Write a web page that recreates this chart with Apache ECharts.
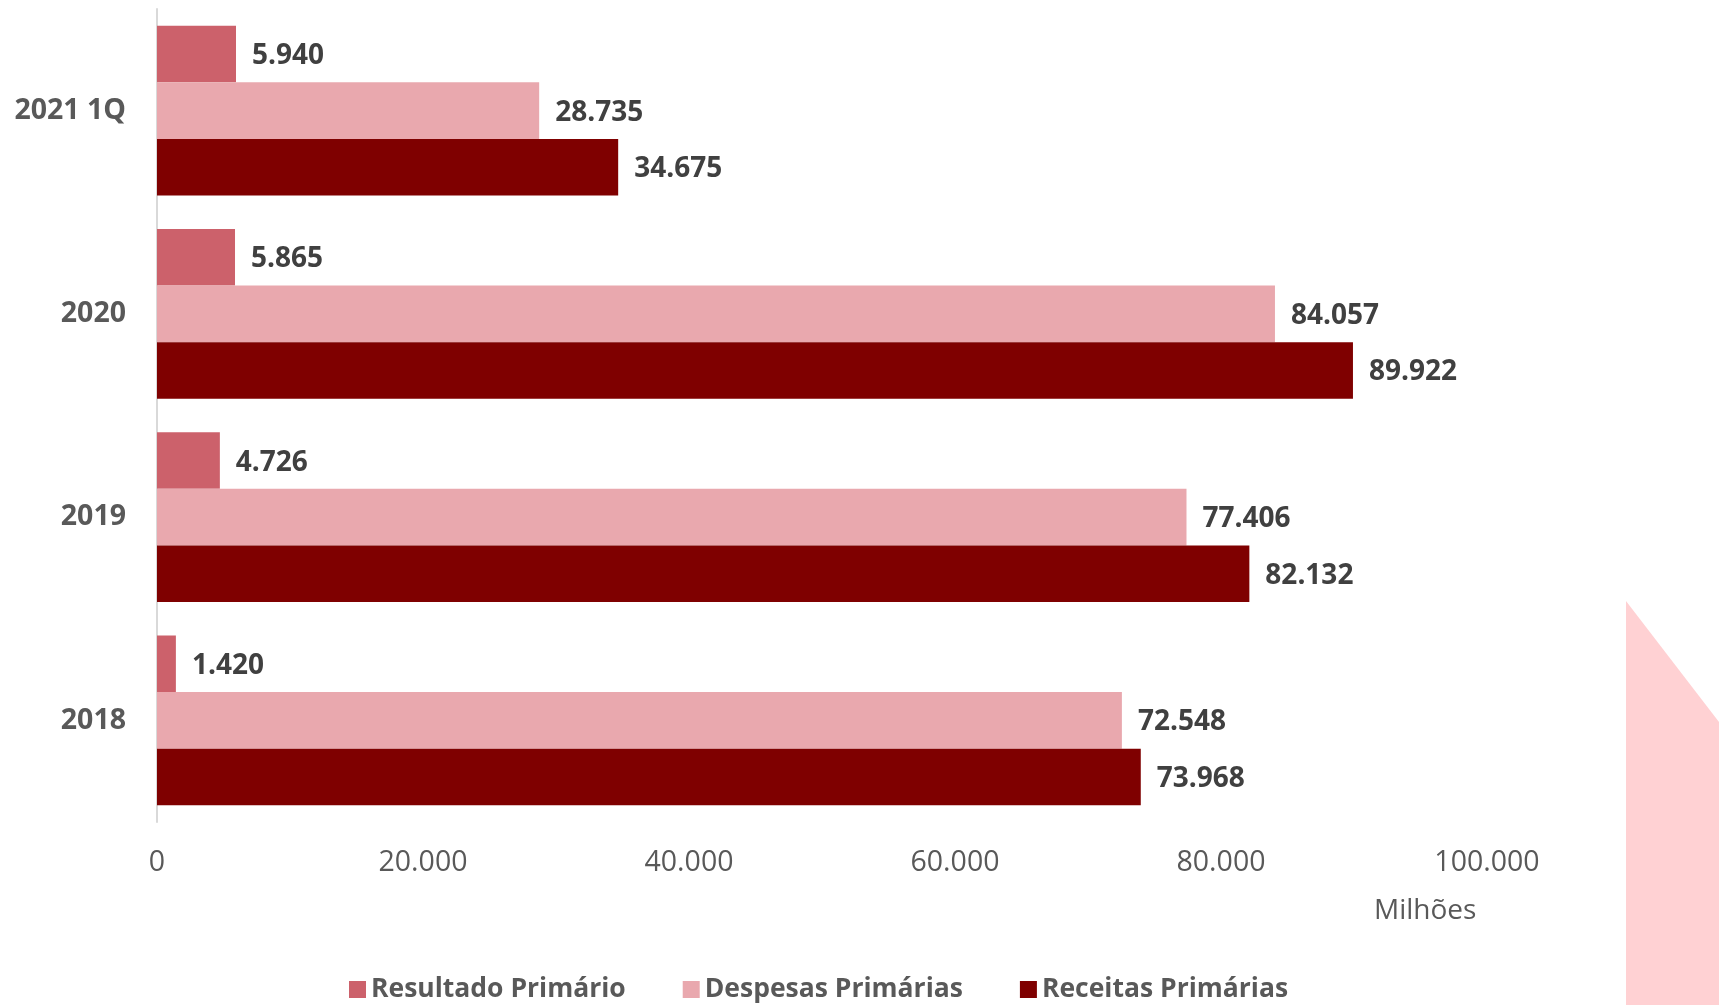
<!DOCTYPE html>
<html>
<head>
<meta charset="utf-8">
<script src="https://cdn.jsdelivr.net/npm/echarts@6/dist/echarts.min.js"></script>
<style>
  html, body { margin: 0; padding: 0; background: #fff; }
  #chart { width: 1719px; height: 1005px; }
</style>
</head>
<body>
<div id="chart"></div>
<script>
// categories, bottom to top as the category axis draws them
var categorias = ['2018', '2019', '2020', '2021 1Q'];
var resultadoPrimario = [1420, 4726, 5865, 5940];
var despesasPrimarias = [72548, 77406, 84057, 28735];
var receitasPrimarias = [73968, 82132, 89922, 34675];
var xTicks = [0, 20000, 40000, 60000, 80000, 100000];

var fonte = '"Open Sans", "DejaVu Sans", sans-serif';

function fmt(v) {
  return String(v).replace(/\B(?=(\d{3})+(?!\d))/g, '.');
}

var myChart = echarts.init(document.getElementById('chart'));

var rotulo = {
  show: true,
  position: 'right',
  distance: 16,
  offset: [0, 2],
  color: '#404040',
  fontFamily: fonte,
  fontWeight: 'bold',
  fontSize: 28,
  formatter: function (p) { return fmt(p.value); }
};

var option = {
  animation: false,
  textStyle: { fontFamily: fonte },
  title: {
    text: 'Milhões',
    left: 1369,
    top: 892,
    textStyle: { color: '#595959', fontSize: 28, fontWeight: 'normal', fontFamily: fonte }
  },
  legend: {
    data: ['Resultado Primário', 'Despesas Primárias', 'Receitas Primárias'],
    left: 349,
    top: 976,
    padding: 0,
    itemWidth: 17,
    itemHeight: 17,
    itemGap: 57,
    icon: 'rect',
    textStyle: { color: '#595959', fontSize: 26.5, fontWeight: 'bold', fontFamily: fonte }
  },
  grid: { left: 157, right: 232, top: 9, bottom: 183, containLabel: false },
  xAxis: {
    type: 'value',
    min: xTicks[0],
    max: xTicks[xTicks.length - 1],
    interval: xTicks[1] - xTicks[0],
    axisLine: { show: false },
    axisTick: { show: false },
    splitLine: { show: false },
    axisLabel: {
      margin: 26,
      color: '#595959',
      fontSize: 28.5,
      fontFamily: fonte,
      formatter: function (v) { return fmt(v); }
    }
  },
  yAxis: {
    type: 'category',
    data: categorias,
    axisLine: { show: true, lineStyle: { color: '#D9D9D9', width: 2 } },
    axisTick: { show: false },
    axisLabel: {
      margin: 31,
      color: '#595959',
      fontSize: 28.5,
      fontWeight: 'bold',
      fontFamily: fonte
    }
  },
  series: [
    {
      name: 'Resultado Primário',
      type: 'bar',
      data: resultadoPrimario,
      barGap: '0%',
      barCategoryGap: '16.6%',
      itemStyle: { color: '#CC616B' },
      label: rotulo
    },
    {
      name: 'Despesas Primárias',
      type: 'bar',
      data: despesasPrimarias,
      itemStyle: { color: '#E9A8AE' },
      label: rotulo
    },
    {
      name: 'Receitas Primárias',
      type: 'bar',
      data: receitasPrimarias,
      itemStyle: { color: '#7F0000' },
      label: rotulo
    }
  ],
  graphic: [
    {
      type: 'polygon',
      silent: true,
      z: -1,
      shape: { points: [[1626, 601], [1719, 722], [1719, 1005], [1626, 1005]] },
      style: { fill: '#FFD1D3' }
    }
  ]
};

myChart.setOption(option);
</script>
</body>
</html>
